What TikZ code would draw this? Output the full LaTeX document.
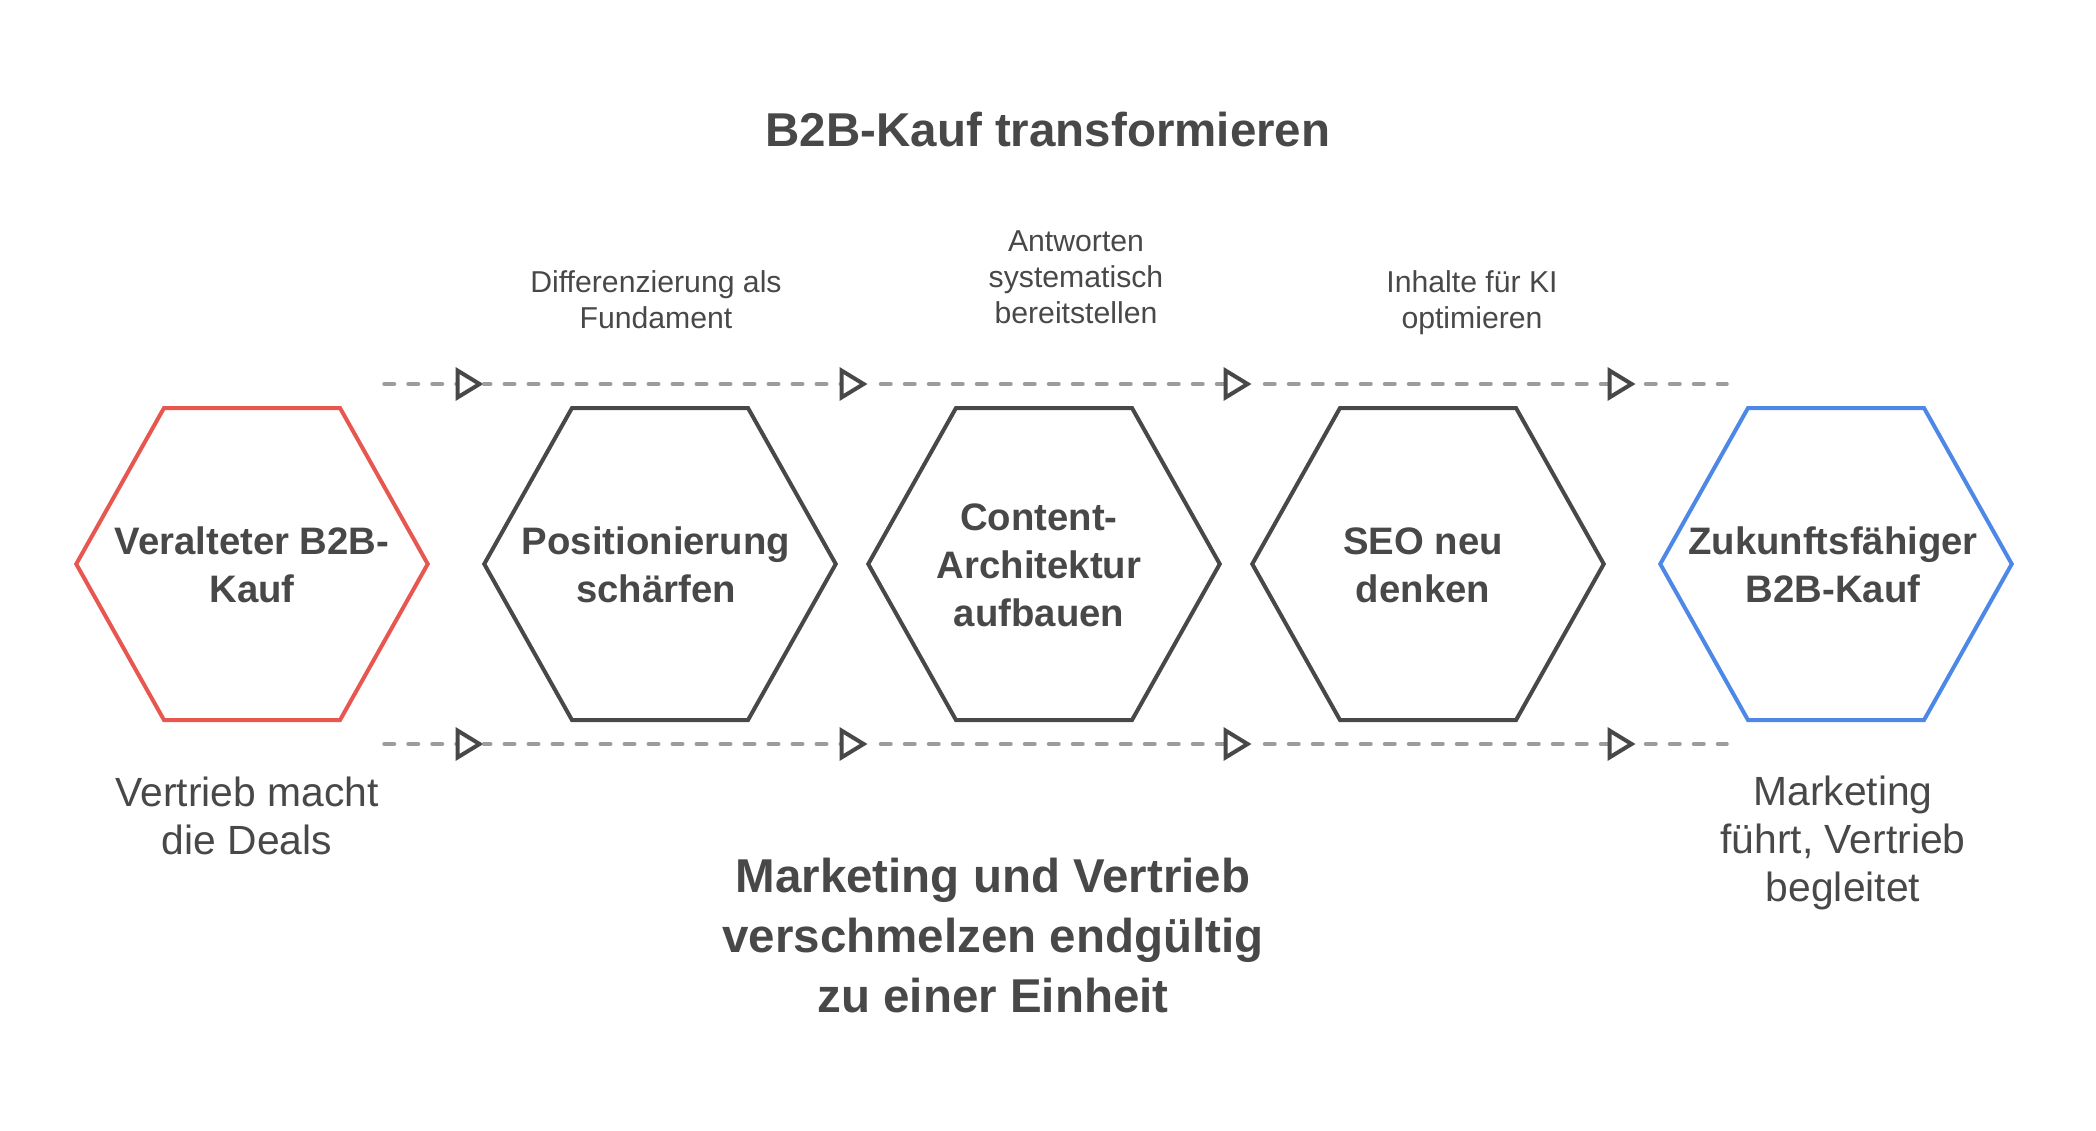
\documentclass[tikz,border=0pt]{standalone}
\usepackage{fontspec}
\setmainfont{Liberation Sans}
\usetikzlibrary{shapes.symbols,arrows.meta}
\definecolor{inkgray}{HTML}{484848}
\definecolor{dashgray}{HTML}{9C9C9C}
\definecolor{oldred}{HTML}{E85650}
\definecolor{newblue}{HTML}{4E88E6}
\tikzset{
hexbox/.style={
  signal,
  signal to=east and west,
  signal pointer angle=121.3,
  minimum width=351.5pt,
  minimum height=312pt,
  inner sep=0pt,
  outer sep=0pt,
  draw=inkgray,
  line width=4pt,
  miter limit=10
  },
hextext/.style={
  text=inkgray,
  align=center,
  inner sep=0pt,
  font=\fontsize{38.3}{48}\selectfont\bfseries
  },
notetext/.style={
  text=inkgray,
  align=center,
  inner sep=0pt,
  font=\fontsize{30.2}{36}\selectfont
  },
sidetext/.style={
  text=inkgray,
  align=center,
  inner sep=0pt,
  font=\fontsize{40.8}{48}\selectfont
  },
headtext/.style={
  text=inkgray,
  align=center,
  inner sep=0pt,
  font=\fontsize{47.5}{60}\selectfont\bfseries
  },
flowline/.style={
  draw=dashgray,
  line width=3.5pt,
  line cap=round,
  dash pattern=on 10.5pt off 13.5pt,
  -{Triangle[open,length=28pt,width=33pt,line width=4pt,color=inkgray]}
  },
tailline/.style={
  draw=dashgray,
  line width=3.5pt,
  line cap=round,
  dash pattern=on 10.5pt off 13.5pt
  }
}

\begin{document}
\begin{tikzpicture}[x=1pt, y=-1pt]
\useasboundingbox (0,0) rectangle (2096,1130);

\node[headtext] (title) at (1048,130) {B2B-Kauf transformieren};

\node[hexbox, draw=oldred] (old) at (252,564) {};
\node[hexbox] (position) at (660,564) {};
\node[hexbox] (content) at (1044,564) {};
\node[hexbox] (seo) at (1428,564) {};
\node[hexbox, draw=newblue] (future) at (1836,564) {};

\node[hextext] (oldlabel) at (252,565) {Veralteter B2B-\\Kauf};
\node[hextext] (positionlabel) at (656,565) {Positionierung\\schärfen};
\node[hextext] (contentlabel) at (1039,565) {Content-\\Architektur\\aufbauen};
\node[hextext] (seolabel) at (1423,565) {SEO neu\\denken};
\node[hextext] (futurelabel) at (1833,565) {Zukunftsfähiger\\B2B-Kauf};

\node[notetext] (note1) at (656,300) {Differenzierung als\\Fundament};
\node[notetext] (note2) at (1076,277) {Antworten\\systematisch\\bereitstellen};
\node[notetext] (note3) at (1472,303) {Inhalte für KI\\optimieren};

\node[sidetext] (oldside) at (247,816) {Vertrieb macht\\die Deals};
\node[sidetext] (futureside) at (1843,843) {Marketing\\führt, Vertrieb\\begleitet};
\node[headtext] (merge) at (993,936) {Marketing und Vertrieb\\verschmelzen endgültig\\zu einer Einheit};

\coordinate (top0) at (384,384);
\coordinate (top1) at (483.5,384);
\coordinate (top2) at (867.5,384);
\coordinate (top3) at (1251.5,384);
\coordinate (top4) at (1635.5,384);
\coordinate (top5) at (1727,384);
\coordinate (bot0) at (384,744);
\coordinate (bot1) at (483.5,744);
\coordinate (bot2) at (867.5,744);
\coordinate (bot3) at (1251.5,744);
\coordinate (bot4) at (1635.5,744);
\coordinate (bot5) at (1727,744);

\begin{scope}[shorten <=13pt]
\draw[flowline] (top2) -- (top3);
\draw[flowline] (top3) -- (top4);
\draw[flowline] (bot2) -- (bot3);
\draw[flowline] (bot3) -- (bot4);
\end{scope}
\draw[flowline] (top0) -- (top1);
\draw[flowline] (bot0) -- (bot1);
\draw[flowline, dash phase=3.25pt] (top1) -- (top2);
\draw[flowline, dash phase=3.25pt] (bot1) -- (bot2);
\draw[tailline, shorten <=10pt] (top4) -- (top5);
\draw[tailline, shorten <=10pt] (bot4) -- (bot5);
\end{tikzpicture}
\end{document}
